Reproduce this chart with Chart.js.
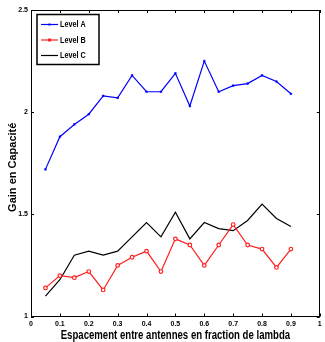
<!DOCTYPE html>
<html>
<head>
<meta charset="utf-8">
<script src="https://cdn.jsdelivr.net/npm/chart.js@4.4.1/dist/chart.umd.min.js"></script>
<style>
  html, body { margin: 0; padding: 0; background: #fff; }
  #wrap { width: 325px; height: 342px; position: relative; }
</style>
</head>
<body>
<div id="wrap"><canvas id="chart"></canvas></div>
<script>
// spacing between antennas (fraction of lambda)
const spacing = [0.05, 0.1, 0.15, 0.2, 0.25, 0.3, 0.35, 0.4, 0.45, 0.5, 0.55, 0.6, 0.65, 0.7, 0.75, 0.8, 0.85, 0.9];
const levelA = [1.72, 1.88, 1.94, 1.99, 2.08, 2.07, 2.18, 2.10, 2.10, 2.19, 2.03, 2.25, 2.10, 2.13, 2.14, 2.18, 2.15, 2.09];
const levelB = [1.14, 1.20, 1.19, 1.22, 1.13, 1.25, 1.29, 1.32, 1.22, 1.38, 1.35, 1.25, 1.35, 1.45, 1.35, 1.33, 1.24, 1.33];
const levelC = [1.10, 1.18, 1.30, 1.32, 1.30, 1.32, 1.39, 1.46, 1.39, 1.51, 1.38, 1.46, 1.43, 1.42, 1.47, 1.55, 1.48, 1.44];
const seriesNames = ['Level A', 'Level B', 'Level C'];
const xTicks = [0, 0.1, 0.2, 0.3, 0.4, 0.5, 0.6, 0.7, 0.8, 0.9, 1];
const yTicks = [1, 1.5, 2, 2.5];
const xTitle = 'Espacement entre antennes en fraction de lambda';
const yTitle = 'Gain en Capacité';

const FONT = "'Liberation Sans', Arial, sans-serif";

const toPoints = vals => vals.map((v, i) => ({ x: spacing[i], y: v }));

// condensed text: no narrow font installed, so squeeze horizontally
function narrowText(ctx, text, x, y, squeeze, align) {
    ctx.save();
    ctx.translate(x, y);
    ctx.scale(squeeze, 1);
    ctx.textAlign = align;
    ctx.fillText(text, 0, 0);
    ctx.restore();
}

// matlab-like box with inward ticks on all four sides, titles and legend
const boxPlugin = {
    id: 'box',
    afterDatasetsDraw(chart) {
        const { ctx, chartArea: a, scales } = chart;
        ctx.save();
        ctx.strokeStyle = '#000';
        ctx.lineWidth = 1;
        ctx.strokeRect(Math.round(a.left) + 0.5, Math.round(a.top) + 0.5,
            Math.round(a.right - a.left) - 1, Math.round(a.bottom - a.top) - 1);
        ctx.beginPath();
        xTicks.forEach(t => {
            const px = Math.round(scales.x.getPixelForValue(t)) + 0.5;
            ctx.moveTo(px, a.bottom); ctx.lineTo(px, a.bottom - 3);
            ctx.moveTo(px, a.top); ctx.lineTo(px, a.top + 3);
        });
        yTicks.forEach(t => {
            const py = Math.round(scales.y.getPixelForValue(t)) + 0.5;
            ctx.moveTo(a.left, py); ctx.lineTo(a.left + 3, py);
            ctx.moveTo(a.right, py); ctx.lineTo(a.right - 3, py);
        });
        ctx.stroke();

        // axis titles
        ctx.fillStyle = '#000';
        ctx.textBaseline = 'middle';
        ctx.font = 'bold 12px ' + FONT;
        narrowText(ctx, xTitle, (a.left + a.right) / 2, 336, 0.8, 'center');
        ctx.save();
        ctx.translate(13, (a.top + a.bottom) / 2 + 4);
        ctx.rotate(-Math.PI / 2);
        ctx.font = 'bold 11px ' + FONT;
        ctx.textAlign = 'center';
        ctx.fillText(yTitle, 0, 0);
        ctx.restore();

        // legend box in the upper left corner
        const lx = a.left + 6, ly = a.top + 4.5, lw = 62, lh = 50;
        ctx.fillStyle = '#fff';
        ctx.fillRect(lx, ly, lw, lh);
        ctx.lineWidth = 1.5;
        ctx.strokeRect(lx, ly, lw, lh);
        ctx.font = 'bold 9px ' + FONT;
        chart.data.datasets.forEach((ds, i) => {
            const yy = ly + 10 + i * 15.5;
            ctx.strokeStyle = ds.borderColor;
            ctx.lineWidth = 1.2;
            ctx.beginPath();
            ctx.moveTo(lx + 4, yy); ctx.lineTo(lx + 21, yy);
            ctx.stroke();
            if (ds.pointRadius > 0) {
                ctx.fillStyle = ds.borderColor;
                ctx.beginPath();
                if (ds.pointStyle === 'rect') ctx.rect(lx + 11.5, yy - 1, 2, 2);
                else ctx.arc(lx + 12.5, yy, 1.8, 0, Math.PI * 2);
                ctx.fill();
            }
            ctx.fillStyle = '#000';
            narrowText(ctx, ds.label, lx + 23, yy + 0.5, 0.8, 'left');
        });
        ctx.restore();
    }
};

new Chart(document.getElementById('chart'), {
    type: 'line',
    data: {
        datasets: [
            { label: seriesNames[0], data: toPoints(levelA), borderColor: '#0000ff', backgroundColor: '#0000ff',
              borderWidth: 1.2, pointStyle: 'rect', pointRadius: 1.2, pointBorderWidth: 0.5 },
            { label: seriesNames[1], data: toPoints(levelB), borderColor: '#ff2020', backgroundColor: '#ffffff',
              borderWidth: 1.2, pointStyle: 'circle', pointRadius: 1.8, pointBorderWidth: 1.2 },
            { label: seriesNames[2], data: toPoints(levelC), borderColor: '#000000',
              borderWidth: 1.2, pointRadius: 0 }
        ]
    },
    options: {
        responsive: true,
        maintainAspectRatio: false,
        animation: false,
        events: [],
        layout: { padding: { top: 10, right: 2, left: 0, bottom: 0 } },
        plugins: { legend: { display: false }, tooltip: { enabled: false } },
        scales: {
            x: {
                type: 'linear', min: 0, max: 1,
                afterBuildTicks: s => { s.ticks = xTicks.map(v => ({ value: v })); },
                afterFit: s => { s.height = 25.5; },
                grid: { display: false, drawTicks: false },
                border: { display: false },
                ticks: {
                    color: '#000', padding: 3, maxRotation: 0,
                    font: { family: FONT, size: 7, weight: 'bold' },
                    callback: v => String(v)
                },
                title: { display: false }
            },
            y: {
                min: 1, max: 2.5,
                afterBuildTicks: s => { s.ticks = yTicks.map(v => ({ value: v })); },
                afterFit: s => { s.width = 31; },
                grid: { display: false, drawTicks: false },
                border: { display: false },
                ticks: {
                    color: '#000', padding: 3,
                    font: { family: FONT, size: 7, weight: 'bold' },
                    callback: v => String(v)
                },
                title: { display: false }
            }
        }
    },
    plugins: [boxPlugin]
});
</script>
</body>
</html>
